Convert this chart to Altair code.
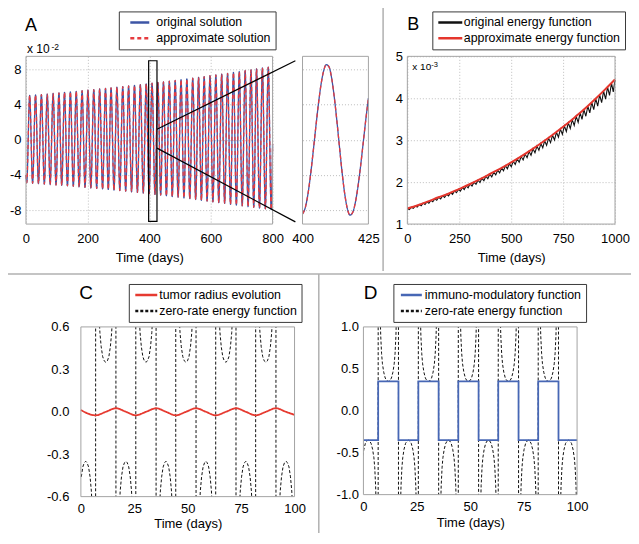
import altair as alt
import pandas as pd

FONT = "Liberation Sans"
BLUE_A = "#3d55a5"
RED_A = "#e63b3f"
RED_B = "#e5362d"
BLACK = "#111111"
RED_C = "#e63a30"
BLUE_D = "#4767b5"
BOX = "#a4a4a4"
SEP = "#b0b0b0"
GRID = "#bdbdbd"

# ---------------- Panel A (values in units of 1e-2) ----------------
a_series = ["original solution", "approximate solution"]
a_peak_t = [12, 31, 50, 69, 88, 107, 125, 144, 163, 182, 201, 220, 239, 258, 276, 295, 314, 333,
            352, 371, 390, 409, 428, 446, 465, 484, 503, 522, 541, 560, 578, 597, 616, 635, 654,
            673, 692, 711, 730, 748, 767, 786]
a_peak_v = [5.05, 5.1, 5.15, 5.2, 5.27, 5.33, 5.4, 5.46, 5.52, 5.58, 5.65, 5.72, 5.78, 5.85, 5.92,
            5.99, 6.06, 6.13, 6.2, 6.28, 6.36, 6.44, 6.52, 6.6, 6.68, 6.76, 6.84, 6.93, 7.02, 7.11,
            7.2, 7.29, 7.38, 7.48, 7.57, 7.67, 7.77, 7.87, 7.97, 8.07, 8.17, 8.27]
a_trough_t = [2.5, 21.5, 40.5, 59.5, 78.5, 97.5, 116, 134.5, 153.5, 172.5, 191.5, 210.5, 229.5,
              248.5, 267, 285.5, 304.5, 323.5, 342.5, 361.5, 380.5, 399.5, 418.5, 437, 455.5,
              474.5, 493.5, 512.5, 531.5, 550.5, 569, 587.5, 606.5, 625.5, 644.5, 663.5, 682.5,
              701.5, 720.5, 739, 757.5, 776.5, 795.5]
a_trough_v = [-4.9, -4.95, -5.0, -5.05, -5.1, -5.15, -5.2, -5.25, -5.3, -5.36, -5.42, -5.48, -5.54,
              -5.6, -5.66, -5.72, -5.78, -5.85, -5.92, -5.99, -6.06, -6.13, -6.22, -6.3, -6.38,
              -6.46, -6.54, -6.62, -6.71, -6.8, -6.89, -6.98, -7.07, -7.16, -7.25, -7.34, -7.43,
              -7.52, -7.61, -7.7, -7.78, -7.86, -7.94]
a_ends_t = [0, 800]
a_ends_v = [-4.0, -0.5]

# zoomed window 400-425 days
inset_t = [400, 401, 402, 403, 404, 405, 406, 407, 408, 409, 410, 411, 412, 413, 414, 415, 416,
           417, 418, 419, 420, 421, 422, 423, 424, 425]
inset_v = [-8.43, -7.78, -6.29, -4.1, -1.47, 1.34, 4.0, 6.26, 7.83, 8.56, 8.34, 7.1, 4.97, 2.25,
           -0.76, -3.68, -6.14, -7.84, -8.57, -8.3, -7.2, -5.4, -3.06, -0.41, 2.28, 4.75]
zoom_t = [398, 425]
zoom_v = [-9.3, 9.0]
conn_t = [425, 874]
conn_upper = [1.2, 9.0]
conn_lower = [-0.95, -9.35]

# ---------------- Panel B (values in units of 1e-3) ----------------
b_series = ["original energy function", "approximate energy function"]
b_red_t = [0, 50, 100, 150, 200, 250, 300, 350, 400, 450, 500, 550, 600, 650, 700, 750, 800,
           850, 900, 950, 1000]
b_red_v = [1.37, 1.45, 1.54, 1.64, 1.73, 1.84, 1.95, 2.07, 2.20, 2.33, 2.47, 2.62, 2.78, 2.95,
           3.13, 3.32, 3.52, 3.73, 3.96, 4.20, 4.45]
b_top_t = [0, 19, 38, 57, 76, 94, 113, 132, 151, 170, 189, 208, 227, 246, 265, 283, 302, 321,
           340, 359, 378, 397, 416, 435, 454, 472, 491, 510, 529, 548, 567, 586, 605, 624, 643,
           661, 680, 699, 718, 737, 756, 775, 794, 813, 832, 850, 869, 888, 907, 926, 945, 964,
           983, 1000]
b_top_v = [1.37, 1.40, 1.43, 1.465, 1.50, 1.53, 1.565, 1.60, 1.64, 1.675, 1.71, 1.75, 1.79, 1.83,
           1.87, 1.91, 1.955, 2.0, 2.045, 2.09, 2.14, 2.19, 2.235, 2.285, 2.34, 2.39, 2.44, 2.50,
           2.555, 2.61, 2.67, 2.73, 2.795, 2.86, 2.92, 2.985, 3.05, 3.12, 3.19, 3.265, 3.34,
           3.415, 3.49, 3.57, 3.65, 3.73, 3.81, 3.90, 3.99, 4.08, 4.17, 4.265, 4.36, 4.44]
b_dip_t = [9.5, 28.5, 47.5, 66.5, 85, 103.5, 122.5, 141.5, 160.5, 179.5, 198.5, 217.5, 236.5,
           255.5, 274, 292.5, 311.5, 330.5, 349.5, 368.5, 387.5, 406.5, 425.5, 444.5, 463,
           481.5, 500.5, 519.5, 538.5, 557.5, 576.5, 595.5, 614.5, 633.5, 652, 670.5, 689.5,
           708.5, 727.5, 746.5, 765.5, 784.5, 803.5, 822.5, 841, 859.5, 878.5, 897.5, 916.5,
           935.5, 954.5, 973.5, 991.5]
b_dip_v = [1.344, 1.375, 1.405, 1.436, 1.467, 1.499, 1.533, 1.567, 1.602, 1.637, 1.673, 1.710,
           1.748, 1.787, 1.825, 1.864, 1.906, 1.948, 1.991, 2.035, 2.080, 2.126, 2.173, 2.221,
           2.269, 2.318, 2.369, 2.421, 2.475, 2.529, 2.584, 2.641, 2.700, 2.759, 2.818, 2.878,
           2.941, 3.006, 3.072, 3.139, 3.209, 3.279, 3.351, 3.424, 3.497, 3.571, 3.650, 3.730,
           3.811, 3.894, 3.979, 4.067, 4.151]

# ---------------- Panels C and D ----------------
c_series = ["tumor radius evolution", "zero-rate energy function"]
d_series = ["immuno-modulatory function", "zero-rate energy function"]
c_t = [0, 6.9, 11.7, 16.4, 21.1, 25.7, 30.5, 35.2, 39.8, 44.4, 49.2, 53.9, 58.5, 63.1, 67.9,
       72.6, 77.2, 81.8, 86.6, 91.3, 95.9, 100]
c_v = [0.012, -0.025, 0.0, 0.025, 0.0, -0.025, 0.0, 0.025, 0.0, -0.025, 0.0, 0.025, 0.0, -0.025,
       0.0, 0.025, 0.0, -0.025, 0.0, 0.025, 0.0, -0.022]
d_t = [0, 6.9, 16.4, 25.7, 35.2, 44.4, 53.9, 63.1, 72.6, 81.8, 91.3, 100]
d_v = [-0.35, 0.35, -0.35, 0.35, -0.35, 0.35, -0.35, 0.35, -0.35, 0.35, -0.35, -0.35]
# zero-rate energy function: branches between its poles
zr_pole = [-2.4, 6.9, 16.4, 25.7, 35.2, 44.4, 53.9, 63.1, 72.6, 81.8, 91.3, 100.7]
zr_offset = [0.05, 0.3, 0.6, 0.9, 1.2, 1.6, 2.0, 2.6, 3.3, 4.0]
zr_value = [20.0, 3.5, 1.75, 1.18, 0.89, 0.68, 0.56, 0.46, 0.39, 0.36]
zr_min = 0.35

# ---------------- data tables ----------------
a_rows = sorted(list(zip(a_ends_t, a_ends_v)) + list(zip(a_peak_t, a_peak_v))
                + list(zip(a_trough_t, a_trough_v)))
dfA = pd.DataFrame([{"t": t, "v": v, "s": s} for s in a_series for t, v in a_rows])
dfI = pd.DataFrame([{"t": t, "v": v, "s": s} for s in a_series for t, v in zip(inset_t, inset_v)])
dfConn = pd.DataFrame({"t": conn_t + conn_t, "v": conn_upper + conn_lower,
                       "g": ["u", "u", "l", "l"]})
b_black = sorted(list(zip(b_top_t, b_top_v)) + list(zip(b_dip_t, b_dip_v)))
dfB0 = pd.DataFrame({"t": [p[0] for p in b_black], "v": [p[1] for p in b_black],
                     "s": b_series[0]})
dfB1 = pd.DataFrame({"t": b_red_t, "v": b_red_v, "s": b_series[1]})
dfC = pd.DataFrame({"t": c_t, "v": c_v, "s": c_series[0]})
dfD = pd.DataFrame({"t": d_t, "v": d_v, "s": d_series[0]})
zr_rows = []
for i in range(len(zr_pole) - 1):
    a, b = zr_pole[i], zr_pole[i + 1]
    sgn = -1 if i % 2 == 0 else 1
    pts = ([(a + d, v) for d, v in zip(zr_offset, zr_value)] + [((a + b) / 2, zr_min)]
           + [(b - d, v) for d, v in zip(zr_offset[::-1], zr_value[::-1])])
    zr_rows += [(t, sgn * v) for t, v in pts]
dfZC = pd.DataFrame({"t": [r[0] for r in zr_rows], "v": [r[1] for r in zr_rows], "s": c_series[1]})
dfZD = pd.DataFrame({"t": [r[0] for r in zr_rows], "v": [r[1] for r in zr_rows], "s": d_series[1]})
ONE = pd.DataFrame({"k": [0]})

LBL_INT = "(datum.value < 0 ? '-' : '') + format(abs(datum.value), 'd')"
LBL_1F = "(datum.value < 0 ? '-' : '') + format(abs(datum.value), '.1f')"


def txt(x, y, s, size):
    return alt.Chart(ONE).mark_text(text=s, font=FONT, fontSize=size, align="left",
                                    baseline="alphabetic", color="black").encode(
        x=alt.value(x), y=alt.value(y))


def box(x0, x1, y0, y1, color=BOX, w=1.0):
    return alt.Chart(ONE).mark_rect(fill="white", fillOpacity=0, stroke=color, strokeWidth=w).encode(
        x=alt.datum(x0), x2=alt.datum(x1), y=alt.datum(y0), y2=alt.datum(y1))


def leg(x, y, sym, sym_off, lab_off):
    return alt.Legend(title=None, orient="none", legendX=x, legendY=y, direction="vertical",
                      symbolType="stroke", symbolSize=sym * sym, symbolStrokeWidth=2.5,
                      symbolOffset=sym_off, labelOffset=lab_off, clipHeight=13,
                      labelFont=FONT, labelFontSize=12.4, labelColor="black",
                      labelLimit=400, strokeColor="#3a3a3a", fillColor="white", padding=4.5,
                      rowPadding=3, cornerRadius=0)


# ---------------- Panel A ----------------
xA = alt.X("t:Q", scale=alt.Scale(domain=[0, 800], nice=False, zero=False),
           axis=alt.Axis(values=[0, 200, 400, 600, 800], format="d", title="Time (days)",
                         grid=True, labelPadding=8, titlePadding=6))
yA = alt.Y("v:Q", scale=alt.Scale(domain=[-9.6, 9.5], nice=False, zero=False),
           axis=alt.Axis(values=[-8, -4, 0, 4, 8], labelExpr=LBL_INT, title=None, grid=True,
                         labelPadding=5))
legA = leg(93, -45, 19, 5.5, 5.5)
colA = alt.Color("s:N", scale=alt.Scale(domain=a_series, range=[BLUE_A, RED_A]), legend=legA)
dashA = alt.StrokeDash("s:N", scale=alt.Scale(domain=a_series, range=[[1, 0], [4, 3]]), legend=legA)

seps = [
    alt.Chart(ONE).mark_rect(fill="white", fillOpacity=0, stroke=SEP, strokeWidth=1.5).encode(
        x=alt.value(-24.5), x2=alt.value(613), y=alt.value(-54.5), y2=alt.value(488)),
    alt.Chart(ONE).mark_rule(color=SEP, strokeWidth=1.5).encode(
        x=alt.value(-24.5), x2=alt.value(613), y=alt.value(218)),
    alt.Chart(ONE).mark_rule(color=SEP, strokeWidth=1.5).encode(
        x=alt.value(357.7), y=alt.value(-54.5), y2=alt.value(215)),
    alt.Chart(ONE).mark_rule(color=SEP, strokeWidth=1.5).encode(
        x=alt.value(293.3), y=alt.value(218), y2=alt.value(488)),
]
linesA = alt.Chart(dfA).mark_line(strokeWidth=1.3, interpolate="monotone").encode(
    x=xA, y=yA, color=colA, strokeDash=dashA)
zoomA = alt.Chart(ONE).mark_rect(fill="white", fillOpacity=0, stroke="black", strokeWidth=1.2).encode(
    x=alt.datum(zoom_t[0]), x2=alt.datum(zoom_t[1]), y=alt.datum(zoom_v[0]), y2=alt.datum(zoom_v[1]))
connA = alt.Chart(dfConn).mark_line(color="black", strokeWidth=1.2).encode(x=xA, y=yA, detail="g:N")
chartA = alt.layer(
    *seps, linesA, box(0, 800, -9.6, 9.5), zoomA, connA,
    txt(-1, -25, "A", 18), txt(1, -3.3, "x 10", 12), txt(25.5, -6.8, "-2", 8.5),
).properties(width=247, height=168)

# ---------------- inset ----------------
xI = alt.X("t:Q", scale=alt.Scale(domain=[400, 425], range=[0, 66], nice=False, zero=False),
           axis=alt.Axis(values=[400, 425], format="d", title=None, labelPadding=8))
yI = alt.Y("v:Q", scale=alt.Scale(domain=[-9.6, 9.5], nice=False, zero=False),
           axis=alt.Axis(values=[-8, -4, 0, 4, 8], labels=False, title=None, grid=True))
colI = alt.Color("s:N", scale=alt.Scale(domain=a_series, range=[BLUE_A, RED_A]), legend=None)
dashI = alt.StrokeDash("s:N", scale=alt.Scale(domain=a_series, range=[[1, 0], [4, 3]]), legend=None)
chartI = alt.layer(
    alt.Chart(dfI).mark_line(strokeWidth=1.3, interpolate="monotone").encode(
        x=xI, y=yI, color=colI, strokeDash=dashI),
    box(400, 425, -9.6, 9.5),
).properties(width=75, height=168)

# ---------------- Panel B ----------------
xB = alt.X("t:Q", scale=alt.Scale(domain=[0, 1000], nice=False, zero=False),
           axis=alt.Axis(values=[0, 250, 500, 750, 1000], format="d", title="Time (days)",
                         grid=True, labelPadding=8, titlePadding=6))
yB = alt.Y("v:Q", scale=alt.Scale(domain=[1, 5], nice=False, zero=False),
           axis=alt.Axis(values=[1, 2, 3, 4, 5], format="d", title=None, grid=True, labelPadding=5))
colB = alt.Color("s:N", scale=alt.Scale(domain=b_series, range=[BLACK, RED_B]),
                 legend=leg(25, -45, 24, 0, 0))
chartB = alt.layer(
    alt.Chart(dfB0).mark_line(strokeWidth=1.1).encode(x=xB, y=yB, color=colB),
    alt.Chart(dfB1).mark_line(strokeWidth=2, interpolate="monotone").encode(x=xB, y=yB, color=colB),
    box(0, 1000, 1, 5),
    txt(0, -26.7, "B", 18), txt(5, 13.3, "x 10", 10), txt(24, 10.5, "-3", 7.5),
).properties(width=208, height=168)

# ---------------- Panel C ----------------
xC = alt.X("t:Q", scale=alt.Scale(domain=[0, 100], range=[55, 269], nice=False, zero=False),
           axis=alt.Axis(values=[0, 25, 50, 75, 100], format="d", title="Time (days)",
                         labelPadding=6, titlePadding=2))
yC = alt.Y("v:Q", scale=alt.Scale(domain=[-0.6, 0.6], nice=False, zero=False),
           axis=alt.Axis(values=[-0.6, -0.3, 0, 0.3, 0.6], labelExpr=LBL_1F, title=None,
                         offset=-55, labelPadding=12))
legC = leg(103, -43, 22, 0.5, 0.5)
colC = alt.Color("s:N", scale=alt.Scale(domain=c_series, range=[RED_C, BLACK]), legend=legC)
dashC = alt.StrokeDash("s:N", scale=alt.Scale(domain=c_series, range=[[1, 0], [3, 2]]), legend=legC)
chartC = alt.layer(
    alt.Chart(dfZC).mark_line(strokeWidth=1, clip=True).transform_filter("datum.t >= 0").encode(
        x=xC, y=yC, color=colC, strokeDash=dashC),
    alt.Chart(dfC).mark_line(strokeWidth=1.8, interpolate="monotone").encode(
        x=xC, y=yC, color=colC, strokeDash=dashC),
    box(0, 100, -0.6, 0.6),
    txt(53.3, -27.7, "C", 19),
).properties(width=269, height=170)

# ---------------- Panel D ----------------
xD = alt.X("t:Q", scale=alt.Scale(domain=[0, 100], nice=False, zero=False),
           axis=alt.Axis(values=[0, 25, 50, 75, 100], format="d", title="Time (days)",
                         labelPadding=6, titlePadding=3))
yD = alt.Y("v:Q", scale=alt.Scale(domain=[-1, 1], nice=False, zero=False),
           axis=alt.Axis(values=[-1, -0.5, 0, 0.5, 1], labelExpr=LBL_1F, title=None, labelPadding=5))
legD = leg(30, -43, 21, 1.5, 1.5)
colD = alt.Color("s:N", scale=alt.Scale(domain=d_series, range=[BLUE_D, BLACK]), legend=legD)
dashD = alt.StrokeDash("s:N", scale=alt.Scale(domain=d_series, range=[[1, 0], [3, 2]]), legend=legD)
chartD = alt.layer(
    alt.Chart(dfZD).mark_line(strokeWidth=1, clip=True).encode(
        x=xD, y=yD, color=colD, strokeDash=dashD),
    alt.Chart(dfD).mark_line(strokeWidth=1.8, interpolate="step-after").encode(
        x=xD, y=yD, color=colD, strokeDash=dashD),
    box(0, 100, -1, 1),
    txt(0.3, -27.7, "D", 19),
).properties(width=214, height=168)

IND = dict(color="independent", strokeDash="independent")
top = alt.hconcat(chartA, chartI, chartB, spacing=30, bounds="flush").resolve_scale(**IND)
bottom = alt.hconcat(chartC, chartD, spacing=69, bounds="flush").resolve_scale(**IND)
chart = alt.vconcat(top, bottom, spacing=271, bounds="flush").resolve_scale(**IND).properties(
    padding={"left": -8, "top": -8, "right": -8, "bottom": -12},
    background="white",
).configure_view(stroke=None).configure_axis(
    labelFont=FONT, titleFont=FONT, labelFontSize=13, titleFontSize=13,
    titleFontWeight="normal", labelColor="black", titleColor="black",
    domain=False, ticks=False, tickSize=0, grid=False, gridColor=GRID, gridDash=[1, 2],
    gridWidth=1, labelFlush=False, labelOverlap=False,
)

chart.save("out.html", embed_options={"renderer": "svg", "actions": False})
